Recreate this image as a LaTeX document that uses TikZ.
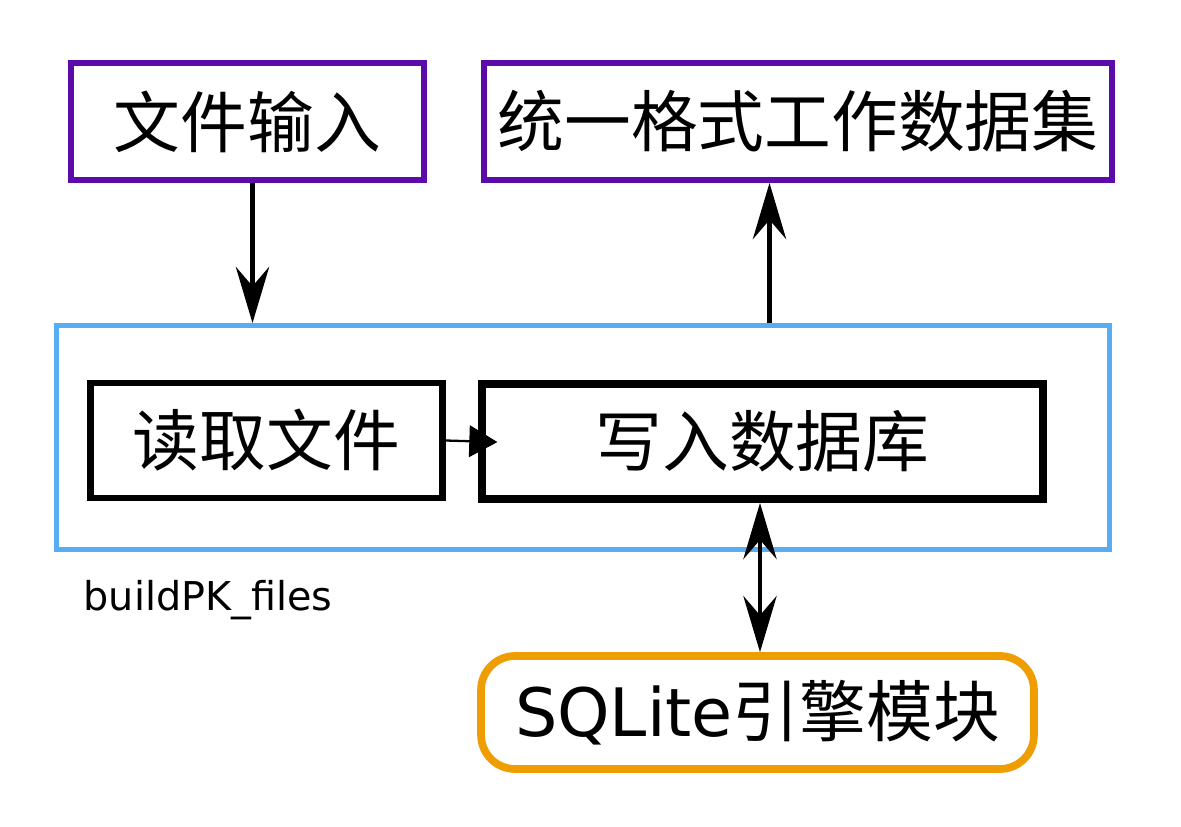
\documentclass[tikz,border=0pt]{standalone}
\usepackage{fontspec}
\setmainfont{DejaVu Sans}
\newfontfamily\cjk{Noto Sans CJK SC}
\usetikzlibrary{arrows.meta, positioning, calc}
\definecolor{ink}{HTML}{000000}
\definecolor{plum}{HTML}{5A0BAA}
\definecolor{sky}{HTML}{58ADF2}
\definecolor{amber}{HTML}{EE9E02}
\tikzset{
  big/.style={font=\fontsize{38}{45}\selectfont},
  %
  iobox/.style={big, draw=plum, line width=3.4pt, inner sep=0pt, align=center},
  stepbox/.style={big, draw=ink, line width=3.6pt, inner sep=0pt, align=center},
  engine/.style={big, draw=amber, line width=4.4pt, rounded corners=0.68cm,
                 inner sep=0pt, align=center},
  group/.style={draw=sky, line width=2.8pt},
  %
  flow/.style={draw=ink, line width=2.3pt,
               -{Stealth[length=32pt, width=19pt, inset=11pt]}},
  flowboth/.style={draw=ink, line width=2.3pt,
               {Stealth[length=32pt, width=19pt, inset=11pt]}-{Stealth[length=32pt, width=19pt, inset=11pt]}},
  flowsmall/.style={draw=ink, line width=1.3pt, -{Triangle[length=16pt, width=18pt]}},
  lbl/.style={font=\fontsize{22.6}{27}\selectfont, inner sep=0pt},
}
\begin{document}
\begin{tikzpicture}[x=0.02cm, y=-0.02cm]
  \useasboundingbox (0,0) rectangle (1181,827);

  % inputs and outputs
  \node[iobox, minimum width=7.06cm, minimum height=2.34cm] (infile) at (247.5,121.5)
    {\cjk 文件输入};
  \node[iobox, minimum width=12.56cm, minimum height=2.34cm] (dataset) at (798,121.5)
    {\cjk 统一格式工作数据集};

  % the buildPK_files group
  \node[group, minimum width=21.06cm, minimum height=4.48cm] (pkfiles) at (583,437.5) {};
  \node[stepbox, minimum width=7.04cm, minimum height=2.31cm] (readf) at (266.5,440.5)
    {\cjk 读取文件};
  \node[stepbox, line width=4.5pt, minimum width=11.22cm, minimum height=2.3cm]
    (writedb) at (762.5,441.5) {\cjk 写入数据库};
  \node[lbl] (pkname) at (208,600) {buildPK\_files};

  \node[engine, minimum width=11.06cm, minimum height=2.26cm] (sqlite) at (757.5,712.5)
    {SQLite\cjk{引擎模块}};

  \draw[flow] ([xshift=0.1cm]infile.south) -- ([xshift=0.1cm]infile.south |- pkfiles.north);
  \draw[flowsmall, shorten >=-11pt] (readf.east) -- (writedb.west);
  \draw[flow] ([xshift=0.14cm]writedb.north |- pkfiles.north)
    -- ([xshift=0.14cm]writedb.north |- dataset.south);
  \draw[flowboth] ([xshift=-0.05cm]writedb.south) -- ([xshift=-0.05cm]writedb.south |- sqlite.north);

\end{tikzpicture}
\end{document}
